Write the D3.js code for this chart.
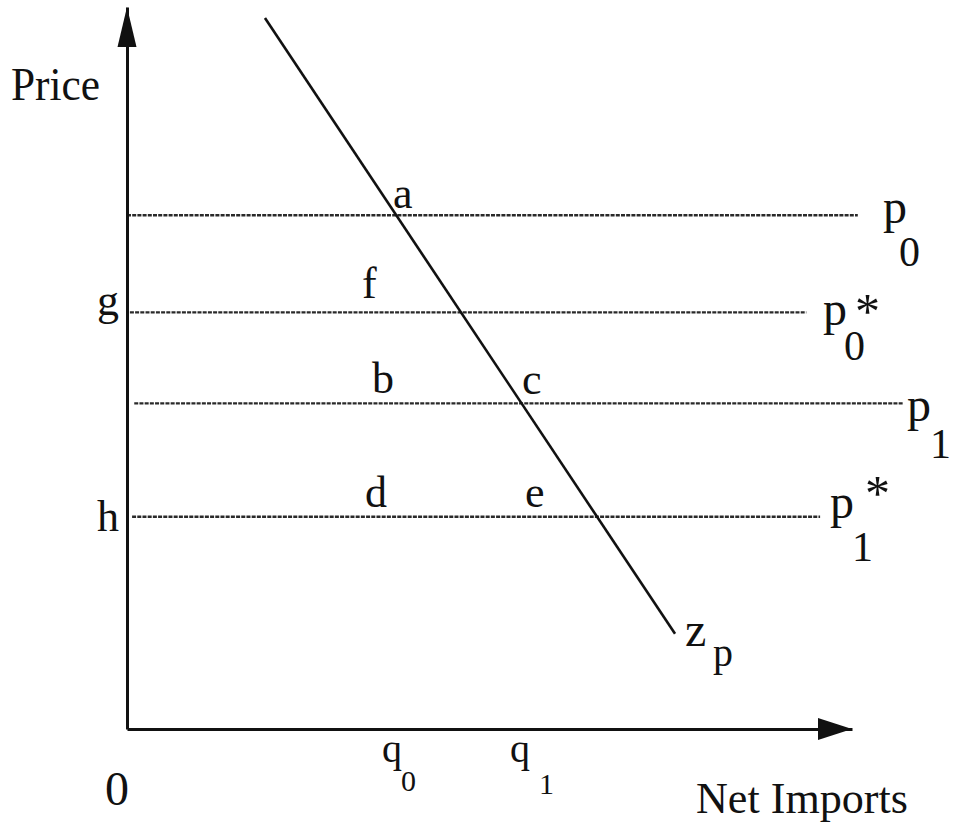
<!DOCTYPE html>
<html>
<head>
<meta charset="utf-8">
<script src="https://cdn.jsdelivr.net/npm/d3@7"></script>
</head>
<body style="margin:0">
<svg id="chart" width="956" height="831"></svg>
<script>
// ---- data (model units: quantity 0..100, price 0..100) ----
const priceLevelNames = ["p0", "p0*", "p1", "p1*"];
const priceLevelValues = [71.15, 57.7, 45.1, 29.4];
const priceLineStart = [0, 0.4, 1.0, 0.7];
const priceLineEnd = [100.8, 93.7, 107.0, 95.6];

const zpQuantity = [19.03, 75.59];
const zpPrice = [98.47, 13.18];

const pointNames = ["a", "f", "g", "b", "c", "d", "e", "h"];
const pointQuantity = [36.69, 32.41, -4.14, 33.79, 54.48, 32.83, 54.90, -4.14];
const pointPrice = [72.12, 59.64, 57.28, 46.60, 46.46, 30.79, 30.79, 27.46];

// subscripted labels: main glyph, subscript, optional star
const symMain = ["p", "p", "p", "p", "z", "q", "q"];
const symSub = ["0", "0", "1", "1", "p", "0", "1"];
const symStar = [false, true, false, true, false, false, false];
const symMainQ = [104.28, 96.0, 107.59, 96.97, 76.97, 35.17, 52.83];
const symMainP = [70.04, 55.89, 42.72, 29.26, 11.51, -4.58, -4.58];
const symSubQ = [106.48, 98.90, 110.76, 100.0, 80.83, 37.79, 56.83];
const symSubP = [64.08, 51.04, 37.59, 23.30, 8.74, -8.60, -9.02];
const symStarQ = [null, 100.4, null, 101.8, null, null, null];
const symStarP = [null, 55.6, null, 30.4, null, null, null];
const symKind = ["price", "price", "price", "price", "curve", "qty", "qty"];

const yAxisTitle = "Price";
const xAxisTitle = "Net Imports";
const originLabel = "0";

// ---- layout ----
const FONT = `"Liberation Serif"`;
const svg = d3.select("#chart");
const x = d3.scaleLinear().domain([0, 100]).range([127, 852]);
const y = d3.scaleLinear().domain([0, 100]).range([729, 7]);

const fontSizes = {
  point: 44,
  price: { main: 48, sub: 42, star: 50 },
  curve: { main: 48, sub: 40, star: 50 },
  qty: { main: 40, sub: 30, star: 40 }
};

function serif(sel) {
  return sel.attr("font-family", FONT)
    .style("font-family", FONT, "important")
    .attr("fill", "#111");
}

svg.append("rect").attr("width", 956).attr("height", 831).attr("fill", "#fff");

// price level dotted lines
const levels = priceLevelNames.map((n, i) => ({
  name: n, v: priceLevelValues[i], s: priceLineStart[i], e: priceLineEnd[i]
}));
svg.append("g").selectAll("line").data(levels).join("line")
  .attr("x1", d => x(d.s)).attr("x2", d => x(d.e))
  .attr("y1", d => y(d.v)).attr("y2", d => y(d.v))
  .attr("stroke", "#2a2a2a")
  .attr("stroke-width", 2.4)
  .attr("stroke-dasharray", "4,1.2");

// axes (no ticks)
const xAxis = d3.axisBottom(x).tickValues([]).tickSizeOuter(0);
const yAxis = d3.axisLeft(y).tickValues([]).tickSizeOuter(0);
const gx = svg.append("g").attr("transform", `translate(0,${y(0)})`).call(xAxis);
const gy = svg.append("g").attr("transform", `translate(${x(0)},0)`).call(yAxis);
[gx, gy].forEach(g => g.select(".domain").attr("stroke", "#111").attr("stroke-width", 3));

// arrowheads
const xEnd = x(100), yTop = y(100);
svg.append("path")
  .attr("d", `M${xEnd},${y(0)} L${xEnd - 34},${y(0) - 11} L${xEnd - 34},${y(0) + 11} Z`)
  .attr("fill", "#111");
svg.append("path")
  .attr("d", `M${x(0)},${yTop} L${x(0) - 9.5},${yTop + 40} L${x(0) + 9.5},${yTop + 40} Z`)
  .attr("fill", "#111");

// Zp curve
const zp = zpQuantity.map((q, i) => [q, zpPrice[i]]);
svg.append("path")
  .datum(zp)
  .attr("d", d3.line().x(d => x(d[0])).y(d => y(d[1])))
  .attr("fill", "none")
  .attr("stroke", "#111")
  .attr("stroke-width", 2.6);

// point labels
const pts = pointNames.map((n, i) => ({ n, q: pointQuantity[i], p: pointPrice[i] }));
pts.forEach(d => {
  svg.append("text")
    .attr("x", x(d.q)).attr("y", y(d.p))
    .attr("font-size", fontSizes.point)
    .call(serif)
    .text(d.n);
});

// subscripted symbols
const syms = symMain.map((m, i) => ({
  m, s: symSub[i], star: symStar[i], k: symKind[i],
  mq: symMainQ[i], mp: symMainP[i], sq: symSubQ[i], sp: symSubP[i],
  tq: symStarQ[i], tp: symStarP[i]
}));
syms.forEach(d => {
  const fs = fontSizes[d.k];
  svg.append("text").attr("x", x(d.mq)).attr("y", y(d.mp))
    .attr("font-size", fs.main).call(serif).text(d.m);
  svg.append("text").attr("x", x(d.sq)).attr("y", y(d.sp))
    .attr("font-size", fs.sub).call(serif).text(d.s);
  if (d.star) {
    svg.append("text").attr("x", x(d.tq)).attr("y", y(d.tp))
      .attr("font-size", fs.star).call(serif).text("*");
  }
});

// axis titles
svg.append("text").attr("x", 11).attr("y", 100)
  .attr("font-size", 47).call(serif)
  .attr("textLength", 89).attr("lengthAdjust", "spacingAndGlyphs")
  .text(yAxisTitle);
svg.append("text").attr("x", 696).attr("y", 813)
  .attr("font-size", 45).call(serif)
  .attr("textLength", 212).attr("lengthAdjust", "spacingAndGlyphs")
  .text(xAxisTitle);
svg.append("text").attr("x", 105).attr("y", 805)
  .attr("font-size", 48).call(serif)
  .text(originLabel);
</script>
</body>
</html>
